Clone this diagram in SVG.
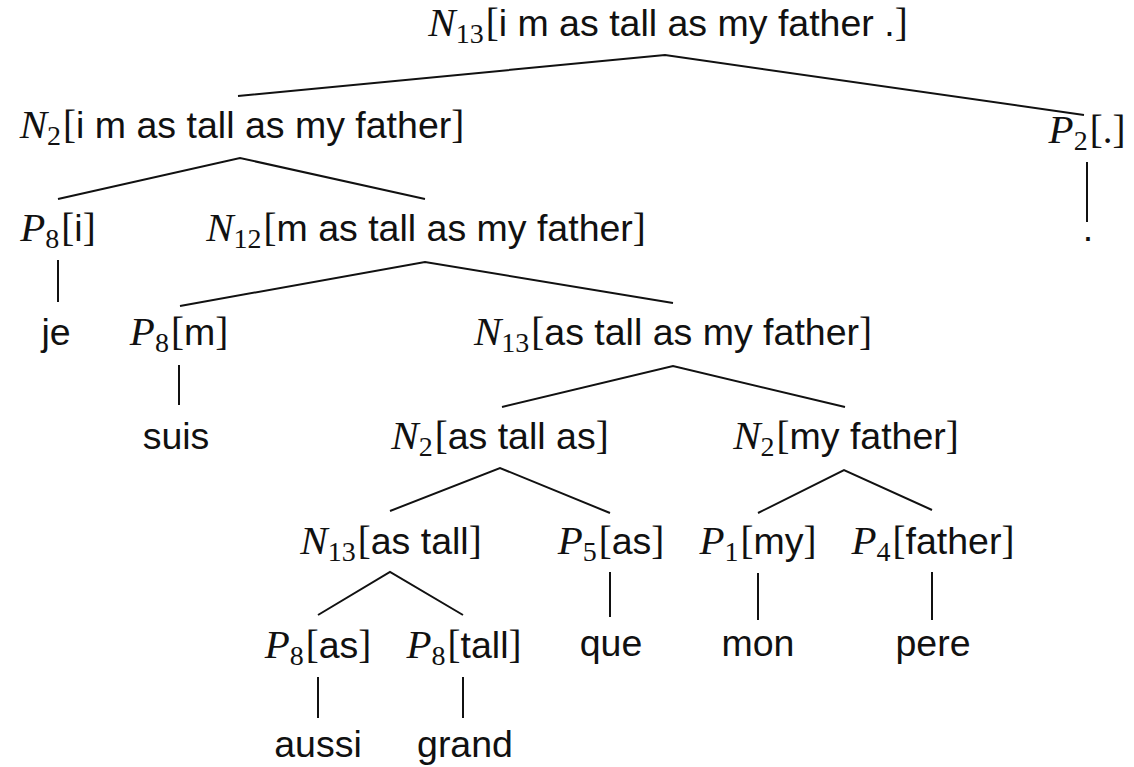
<svg xmlns="http://www.w3.org/2000/svg" width="1134" height="767" viewBox="0 0 1134 767">
<style>
text{font-family:"Liberation Sans",Arial,sans-serif;font-size:37.5px;fill:#111;text-anchor:middle}
.m{font-family:"Liberation Serif","Times New Roman",serif;font-style:italic;font-size:41px}
.sub{font-family:"Liberation Serif","Times New Roman",serif;font-size:28px}
.br{font-family:"Liberation Serif","Times New Roman",serif;font-size:39px}
.e line,.e polyline{stroke:#111;stroke-width:2;fill:none}
</style>
<rect width="1134" height="767" fill="#fff"/>
<g id="connectors" class="e">
<polyline points="238,96 665,55 1084,115"/>
<polyline points="58,199 240,158 425,199"/>
<polyline points="180,306 425,262 673,303"/>
<line x1="58" y1="260" x2="58" y2="302"/>
<line x1="179" y1="365" x2="179" y2="405"/>
<polyline points="502,407 673,366 845,407"/>
<polyline points="390,511 500,468 610,513"/>
<polyline points="758,513 844,470 932,510"/>
<polyline points="318,615 390,572 463,615"/>
<line x1="610" y1="572" x2="610" y2="617"/>
<line x1="758" y1="573" x2="758" y2="620"/>
<line x1="932" y1="572" x2="932" y2="620"/>
<line x1="318" y1="677" x2="318" y2="718"/>
<line x1="463" y1="677" x2="463" y2="718"/>
<line x1="1087" y1="162" x2="1087" y2="222"/>
</g>
<g id="n_root"><text x="668" y="36"><tspan class="m">N</tspan><tspan class="sub" dy="7">13</tspan><tspan class="br" dy="-7" dx="2">[</tspan>i m as tall as my father .<tspan class="br">]</tspan></text></g>
<g id="n_N2a"><text x="242" y="138"><tspan class="m">N</tspan><tspan class="sub" dy="7">2</tspan><tspan class="br" dy="-7" dx="2">[</tspan>i m as tall as my father<tspan class="br">]</tspan></text></g>
<g id="n_P2"><text x="1087" y="143"><tspan class="m">P</tspan><tspan class="sub" dy="7">2</tspan><tspan class="br" dy="-7" dx="2">[.]</tspan></text></g>
<g id="n_dot"><text x="1088" y="241">.</text></g>
<g id="n_P8i"><text x="58" y="241"><tspan class="m">P</tspan><tspan class="sub" dy="7">8</tspan><tspan class="br" dy="-7" dx="2">[</tspan>i<tspan class="br">]</tspan></text></g>
<g id="n_N12"><text x="426" y="241"><tspan class="m">N</tspan><tspan class="sub" dy="7">12</tspan><tspan class="br" dy="-7" dx="2">[</tspan>m as tall as my father<tspan class="br">]</tspan></text></g>
<g id="n_je"><text x="56" y="345">je</text></g>
<g id="n_P8m"><text x="179" y="345"><tspan class="m">P</tspan><tspan class="sub" dy="7">8</tspan><tspan class="br" dy="-7" dx="2">[</tspan>m<tspan class="br">]</tspan></text></g>
<g id="n_N13b"><text x="673" y="345"><tspan class="m">N</tspan><tspan class="sub" dy="7">13</tspan><tspan class="br" dy="-7" dx="2">[</tspan>as tall as my father<tspan class="br">]</tspan></text></g>
<g id="n_suis"><text x="176" y="449">suis</text></g>
<g id="n_N2b"><text x="500" y="449"><tspan class="m">N</tspan><tspan class="sub" dy="7">2</tspan><tspan class="br" dy="-7" dx="2">[</tspan>as tall as<tspan class="br">]</tspan></text></g>
<g id="n_N2c"><text x="846" y="449"><tspan class="m">N</tspan><tspan class="sub" dy="7">2</tspan><tspan class="br" dy="-7" dx="2">[</tspan>my father<tspan class="br">]</tspan></text></g>
<g id="n_N13c"><text x="391" y="554"><tspan class="m">N</tspan><tspan class="sub" dy="7">13</tspan><tspan class="br" dy="-7" dx="2">[</tspan>as tall<tspan class="br">]</tspan></text></g>
<g id="n_P5"><text x="611" y="554"><tspan class="m">P</tspan><tspan class="sub" dy="7">5</tspan><tspan class="br" dy="-7" dx="2">[</tspan>as<tspan class="br">]</tspan></text></g>
<g id="n_P1"><text x="758" y="554"><tspan class="m">P</tspan><tspan class="sub" dy="7">1</tspan><tspan class="br" dy="-7" dx="2">[</tspan>my<tspan class="br">]</tspan></text></g>
<g id="n_P4"><text x="933" y="554"><tspan class="m">P</tspan><tspan class="sub" dy="7">4</tspan><tspan class="br" dy="-7" dx="2">[</tspan>father<tspan class="br">]</tspan></text></g>
<g id="n_que"><text x="611" y="656">que</text></g>
<g id="n_mon"><text x="758" y="656">mon</text></g>
<g id="n_pere"><text x="933" y="656">pere</text></g>
<g id="n_P8as"><text x="318" y="658"><tspan class="m">P</tspan><tspan class="sub" dy="7">8</tspan><tspan class="br" dy="-7" dx="2">[</tspan>as<tspan class="br">]</tspan></text></g>
<g id="n_P8tall"><text x="464" y="658"><tspan class="m">P</tspan><tspan class="sub" dy="7">8</tspan><tspan class="br" dy="-7" dx="2">[</tspan>tall<tspan class="br">]</tspan></text></g>
<g id="n_aussi"><text x="318" y="757">aussi</text></g>
<g id="n_grand"><text x="465" y="757">grand</text></g>
</svg>
